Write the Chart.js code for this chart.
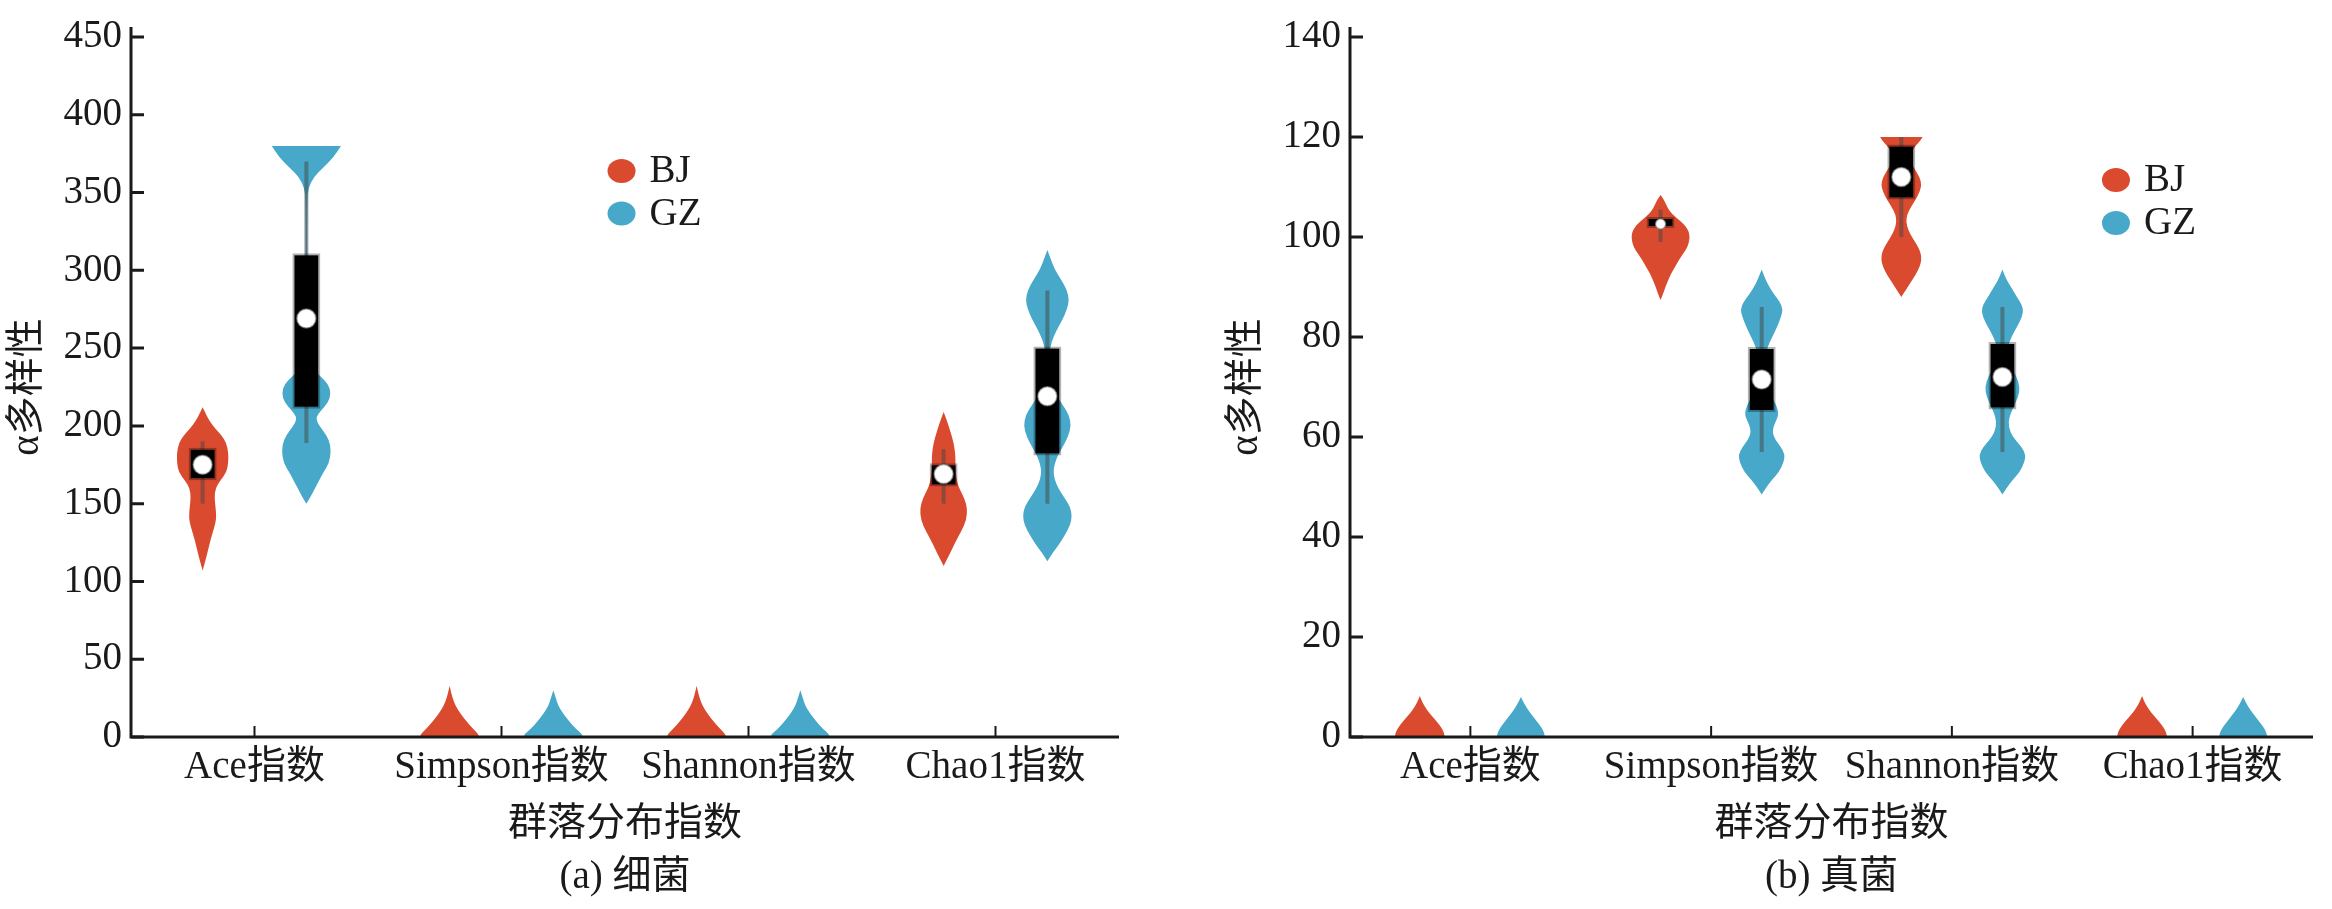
<!DOCTYPE html>
<html>
<head>
<meta charset="utf-8">
<script src="https://cdn.jsdelivr.net/npm/chart.js@4.4.1/dist/chart.umd.min.js"></script>
<style>
  html, body { margin: 0; padding: 0; background: #ffffff; }
  #wrap { position: relative; width: 2332px; height: 909px; background: #ffffff; }
  canvas { position: absolute; top: 0; }
  #cA { left: 0; }
  #cB { left: 1166px; }
</style>
</head>
<body>
<div id="wrap">
  <canvas id="cA" width="1166" height="909"></canvas>
  <canvas id="cB" width="1166" height="909"></canvas>
</div>
<script>
// ---------- DATA ----------
const categories = ['Ace指数', 'Simpson指数', 'Shannon指数', 'Chao1指数'];
const seriesNames = ['BJ', 'GZ'];
const yTitle = 'α多样性';
const xTitle = '群落分布指数';
const captionA = '(a) 细菌';
const captionB = '(b) 真菌';

// (a) bacteria: y ticks
const bactYMax = 450;
const bactYStep = 50;
// box (IQR) ranges, whiskers, medians
const bactBoxBJ = [[165, 186], null, null, [161, 176]];
const bactBoxGZ = [[211, 311], null, null, [181, 251]];
const bactWhiskerBJ = [[150, 190], null, null, [150, 185]];
const bactWhiskerGZ = [[189, 370], null, null, [150, 287]];
const bactMedianBJ = [175, null, null, 169];
const bactMedianGZ = [269, null, null, 219];
// violin density profiles: [value, density]
const bactAceBJ = [[107,0],[116,4],[127,8],[135,12],[141,14],[148,13],[154,12],[160,13],[165,18],[170,24],[176,26],[183,26],[189,24],[194,19],[198,13],[203,7],[208,3],[212,0]];
const bactAceGZ = [[150,0],[154,4],[159,8],[165,13],[170,17],[176,23],[184,25],[191,23],[197,17],[202,11],[206,10],[210,15],[215,22],[221,25],[227,22],[232,14],[237,6],[243,2],[252,0.8],[345,0.8],[353,2],[360,7.5],[366,17],[373,28],[380,35]];
const bactSimpsonBJ = [[0,30],[2,29],[5,24],[10,17],[15,11],[20,6],[25,3],[30,1],[33,0]];
const bactSimpsonGZ = [[0,30],[2,29],[5,23],[10,16],[15,10],[20,5],[25,2.5],[30,0]];
const bactShannonBJ = [[0,30],[2,29],[5,24],[10,17],[15,11],[20,6],[25,3],[30,1],[33,0]];
const bactShannonGZ = [[0,30],[2,29],[5,23],[10,16],[15,10],[20,5],[25,2.5],[30,0]];
const bactChao1BJ = [[110,0],[115,4],[120,8],[128,14],[136,21],[143,24],[150,23],[156,19],[161,15],[166,13],[172,12],[180,12],[186,11],[192,9],[198,6],[204,3],[209,0]];
const bactChao1GZ = [[113,0],[118,5],[123,11],[130,18],[136,23],[142,25],[148,23],[154,17],[160,11],[166,7],[172,6],[179,9],[186,15],[193,21],[200,24],[207,22],[214,15],[221,8],[228,4],[236,2],[246,2],[254,4],[261,9],[268,15],[275,20],[281,22],[287,20],[294,14],[301,7],[308,3],[313,0]];

// (b) fungi
const fungYMax = 140;
const fungYStep = 20;
const fungBoxBJ = [null, [101.8, 104], [107.5, 118.5], null];
const fungBoxGZ = [null, [65, 78], [65.5, 79], null];
const fungWhiskerBJ = [null, [99, 105.5], [100, 120], null];
const fungWhiskerGZ = [null, [57, 86], [57, 86], null];
const fungMedianBJ = [null, 102.6, 112, null];
const fungMedianGZ = [null, 71.5, 72, null];
const fungAceBJ = [[0,26],[1,25],[2,22],[3,18],[4,13.5],[5,9],[6,5.5],[7,2.5],[8.2,0]];
const fungAceGZ = [[0,25],[1,24],[2,21],[3,17],[4,13],[5,9],[6,5.5],[7,2.5],[8,0]];
const fungSimpsonBJ = [[87.4,0],[88.8,3],[90,5],[91.4,8],[92.7,11],[94,15],[95.4,19],[96.8,24],[98,28],[99.4,30],[100.6,30],[101.6,28],[102.6,24],[103.6,18],[104.6,12],[105.6,8],[106.8,5],[107.6,3],[108.4,0]];
const fungSimpsonGZ = [[48.5,0],[50,5],[51.5,11],[53,18],[55,23],[56.5,24],[58,20],[59.5,14],[61,11],[62.5,13],[64.5,18],[66.5,15],[68.5,9],[70.5,5],[73,3],[75.5,3],[78,6],[80,11],[82,16],[84,20],[85.5,22],[87,19],[88.5,13],[90,8],[91.5,4],[93.5,0]];
const fungShannonBJ = [[88,0],[89.5,5],[91,10],[92.5,15],[94,19],[95.5,21],[97,20],[98.5,16],[100,11],[101.5,7],[103,5],[104.5,6],[106,10],[107.5,15],[109,19],[110.5,21],[112,19],[113.5,14],[115,10],[116.5,9],[117.5,12],[118.5,16],[119.3,20],[120,22]];
const fungShannonGZ = [[48.5,0],[50,5],[51.5,11],[53,18],[55,23],[56.5,24],[58,20],[59.5,13],[61,8],[63,6],[65,9],[67,14],[69,18],[71,17],[73,12],[75,7],[77,5],[79,7],[81,12],[83,18],[85,22],[86.5,20],[88,15],[90,9],[91.5,4],[93.5,0]];
const fungChao1BJ = [[0,26],[1,25],[2,22],[3,18],[4,13.5],[5,9],[6,5.5],[7,2.5],[8.2,0]];
const fungChao1GZ = [[0,25],[1,24],[2,21],[3,17],[4,13],[5,9],[6,5.5],[7,2.5],[8,0]];

// ---------- STYLE ----------
const colorBJ = '#DA4A2E';
const colorGZ = '#47A8C9';
const inkColor = '#1a1a1a';
const fontFamily = "'Liberation Serif', 'Noto Sans CJK SC', serif";
const fontSize = 39;

function traceSide(ctx, pts, start) {
  if (start) ctx.moveTo(pts[0][0], pts[0][1]); else ctx.lineTo(pts[0][0], pts[0][1]);
  for (let i = 1; i < pts.length - 1; i++) {
    const mx = (pts[i][0] + pts[i + 1][0]) / 2, my = (pts[i][1] + pts[i + 1][1]) / 2;
    ctx.quadraticCurveTo(pts[i][0], pts[i][1], mx, my);
  }
  const l = pts[pts.length - 1];
  ctx.lineTo(l[0], l[1]);
}

function makePanelPlugin(cfg) {
  return {
    id: 'violinPanel',
    beforeDatasetsDraw(chart) {
      const ctx = chart.ctx, ys = chart.scales.y, xs = chart.scales.x;
      const unit = (xs.width / categories.length) / 250;
      cfg.violins.forEach((profiles, gi) => {
        const meta = chart.getDatasetMeta(gi);
        profiles.forEach((prof, j) => {
          if (!prof) return;
          const cx = meta.data[j].x;
          const right = prof.map(([v, w]) => [cx + w * unit, ys.getPixelForValue(v)]);
          const left = prof.slice().reverse().map(([v, w]) => [cx - w * unit, ys.getPixelForValue(v)]);
          ctx.save();
          ctx.fillStyle = cfg.colors[gi];
          ctx.beginPath();
          traceSide(ctx, right, true);
          traceSide(ctx, left, false);
          ctx.closePath();
          ctx.fill();
          ctx.restore();
        });
      });
    },
    afterDatasetsDraw(chart) {
      const ctx = chart.ctx, ys = chart.scales.y, xs = chart.scales.x, a = chart.chartArea;
      // median dots
      cfg.medians.forEach((meds, gi) => {
        const meta = chart.getDatasetMeta(gi);
        meds.forEach((m, j) => {
          if (m === null) return;
          const el = meta.data[j];
          const h = Math.abs(el.base - el.y);
          const r = Math.min(9.5, h / 2 - 0.5);
          ctx.save();
          ctx.beginPath();
          ctx.arc(el.x, ys.getPixelForValue(m), r, 0, Math.PI * 2);
          ctx.fillStyle = '#ffffff';
          ctx.fill();
          ctx.lineWidth = 1.5;
          ctx.strokeStyle = 'rgba(140,140,140,0.6)';
          ctx.stroke();
          ctx.restore();
        });
      });
      // axes
      ctx.save();
      ctx.strokeStyle = inkColor;
      ctx.lineWidth = 3;
      ctx.beginPath();
      ctx.moveTo(a.left, a.top - 10);
      ctx.lineTo(a.left, a.bottom + 1.5);
      ctx.moveTo(a.left - 1.5, a.bottom);
      ctx.lineTo(a.right, a.bottom);
      ctx.stroke();
      // inward y ticks
      ctx.beginPath();
      ys.ticks.forEach((t, i) => {
        const py = ys.getPixelForTick(i);
        ctx.moveTo(a.left, py);
        ctx.lineTo(a.left + 13, py);
      });
      ctx.stroke();
      // inward x ticks at category centres
      ctx.lineWidth = 2;
      ctx.beginPath();
      categories.forEach((c, i) => {
        const px = xs.getPixelForValue(i);
        ctx.moveTo(px, a.bottom);
        ctx.lineTo(px, a.bottom - 11);
      });
      ctx.stroke();
      // legend
      const lx = a.left + cfg.legend.xFrac * a.width;
      seriesNames.forEach((name, i) => {
        const ly = a.top + cfg.legend.top + i * cfg.legend.gap;
        ctx.beginPath();
        ctx.ellipse(lx, ly, 14, 12, 0, 0, Math.PI * 2);
        ctx.fillStyle = cfg.colors[i];
        ctx.fill();
        ctx.fillStyle = inkColor;
        ctx.font = fontSize + 'px ' + fontFamily;
        ctx.textAlign = 'left';
        ctx.textBaseline = 'middle';
        ctx.fillText(name, lx + 28, ly + 1);
      });
      ctx.restore();
    }
  };
}

function makeChart(canvasId, cfg) {
  const boxStyle = {
    backgroundColor: '#000000', borderColor: 'rgba(0,0,0,0.3)', borderWidth: 2,
    borderSkipped: false, categoryPercentage: 0.84, barPercentage: 1, maxBarThickness: 28
  };
  const whiskerStyle = {
    backgroundColor: 'rgba(70,70,70,0.5)', borderWidth: 0,
    categoryPercentage: 0.84, barPercentage: 1, maxBarThickness: 4
  };
  return new Chart(document.getElementById(canvasId), {
    type: 'bar',
    data: {
      labels: categories,
      datasets: [
        Object.assign({ label: seriesNames[0], data: cfg.boxBJ, stack: 'BJ' }, boxStyle),
        Object.assign({ label: seriesNames[1], data: cfg.boxGZ, stack: 'GZ' }, boxStyle),
        Object.assign({ label: seriesNames[0] + ' whisker', data: cfg.whBJ, stack: 'BJ' }, whiskerStyle),
        Object.assign({ label: seriesNames[1] + ' whisker', data: cfg.whGZ, stack: 'GZ' }, whiskerStyle)
      ]
    },
    options: {
      responsive: false,
      animation: false,
      devicePixelRatio: 1,
      events: [],
      layout: { padding: { top: 37, right: cfg.padRight, left: 0, bottom: 0 } },
      plugins: { legend: { display: false }, tooltip: { enabled: false }, title: { display: false } },
      scales: {
        x: {
          type: 'category', offset: true,
          grid: { display: false, drawTicks: false, tickLength: 0 },
          border: { display: false },
          ticks: { color: inkColor, font: { family: fontFamily, size: fontSize, lineHeight: 1.2 }, padding: 7, maxRotation: 0, minRotation: 0, autoSkip: false },
          title: { display: true, text: [xTitle, cfg.caption], color: inkColor, font: { family: fontFamily, size: fontSize, lineHeight: 1.36 }, padding: { top: 0, bottom: 5 } },
          afterFit(s) { s.height = 172; }
        },
        y: {
          type: 'linear', min: 0, max: cfg.yMax, stacked: false,
          grid: { display: false, drawTicks: false, tickLength: 0 },
          border: { display: false },
          ticks: { stepSize: cfg.yStep, color: inkColor, font: { family: fontFamily, size: fontSize, lineHeight: 1.2 }, padding: 9 },
          title: { display: true, text: yTitle, color: inkColor, font: { family: fontFamily, size: fontSize, lineHeight: 1.2 }, padding: { top: cfg.yTitlePad, bottom: 0 } },
          afterFit(s) { s.width = cfg.yWidth; }
        }
      }
    },
    plugins: [makePanelPlugin(cfg)]
  });
}

makeChart('cA', {
  boxBJ: bactBoxBJ, boxGZ: bactBoxGZ, whBJ: bactWhiskerBJ, whGZ: bactWhiskerGZ,
  medians: [bactMedianBJ, bactMedianGZ],
  violins: [
    [bactAceBJ, bactSimpsonBJ, bactShannonBJ, bactChao1BJ],
    [bactAceGZ, bactSimpsonGZ, bactShannonGZ, bactChao1GZ]
  ],
  colors: [colorBJ, colorGZ],
  yMax: bactYMax, yStep: bactYStep, caption: captionA,
  yWidth: 131, padRight: 47, yTitlePad: 4,
  legend: { xFrac: 0.4965, top: 134, gap: 42.5 }
});

makeChart('cB', {
  boxBJ: fungBoxBJ, boxGZ: fungBoxGZ, whBJ: fungWhiskerBJ, whGZ: fungWhiskerGZ,
  medians: [fungMedianBJ, fungMedianGZ],
  violins: [
    [fungAceBJ, fungSimpsonBJ, fungShannonBJ, fungChao1BJ],
    [fungAceGZ, fungSimpsonGZ, fungShannonGZ, fungChao1GZ]
  ],
  colors: [colorBJ, colorGZ],
  yMax: fungYMax, yStep: fungYStep, caption: captionB,
  yWidth: 184, padRight: 19, yTitlePad: 57,
  legend: { xFrac: 0.7954, top: 143, gap: 43 }
});
</script>
</body>
</html>
